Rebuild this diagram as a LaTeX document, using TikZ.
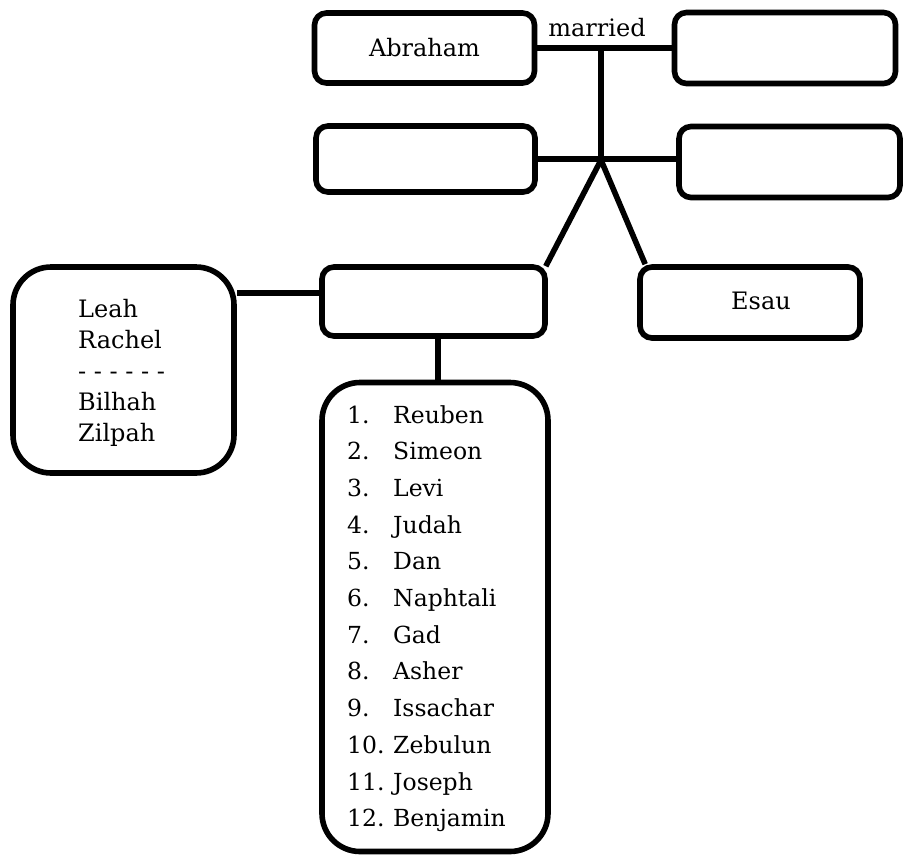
\documentclass[tikz,border=0pt]{standalone}
\usepackage{fontspec}
\setmainfont{DejaVu Serif}
\begin{document}
\begin{tikzpicture}[x=1pt,y=-1pt,
  famlink/.style={line width=5.6pt},
  famcard/.style={draw, line width=5.6pt, rounded corners=12pt, inner sep=0pt,
    font=\fontsize{24}{28}\selectfont},
  bigcard/.style={famcard, rounded corners=38pt},
  listtext/.style={anchor=base west, inner sep=0pt, font=\fontsize{23.5}{28}\selectfont},
  wifetext/.style={anchor=base west, inner sep=0pt, font=\fontsize{24}{28}\selectfont}]
\useasboundingbox (0,0) rectangle (911,857);

% first generation
\node[famcard, minimum width=220pt, minimum height=70pt] (abraham) at (424.5,48) {Abraham};
\node[famcard, minimum width=221pt, minimum height=71pt] (wife) at (785,48) {};
\node[font=\fontsize{24}{28}\selectfont, anchor=base, inner sep=0pt] (married) at (597,36) {married};

% second generation
\node[famcard, minimum width=219pt, minimum height=66pt] (sonA) at (425.5,159) {};
\node[famcard, minimum width=221pt, minimum height=71pt] (sonB) at (789.5,162) {};

% third generation
\node[famcard, minimum width=223pt, minimum height=69pt] (jacob) at (433.5,301.5) {};
\node[famcard, minimum width=220pt, minimum height=71pt] (esau) at (750,302.5) {};
\node[font=\fontsize{24}{28}\selectfont, anchor=base, inner sep=0pt] (esaulbl) at (761,309) {Esau};

% wives and sons
\node[bigcard, minimum width=221pt, minimum height=206pt] (wives) at (123.5,370) {};
\node[bigcard, minimum width=226pt, minimum height=469pt] (sons) at (435,617) {};

% connectors
\coordinate (junc) at (601,160);
\draw[famlink] (abraham.east) -- (wife.west);
\draw[famlink] (junc |- abraham.east) -- (junc);
\draw[famlink] (sonA.east) -- (sonA.east -| sonB.west);
\draw[famlink] (junc) -- ([xshift=-2pt,yshift=-2pt]jacob.north east);
\draw[famlink] (junc) -- ([xshift=8pt]esau.north west);
\draw[famlink] ([yshift=8.5pt]jacob.west) -- ([yshift=8.5pt]jacob.west -| wives.east);
\draw[famlink] ([xshift=4.5pt]jacob.south) -- ([xshift=4.5pt]jacob.south |- sons.north);

% wives list
\node[wifetext] (w1) at (78,317) {Leah};
\node[wifetext] (w2) at (78,348) {Rachel};
\node[wifetext] (w3) at (78,379) {- - - - - -};
\node[wifetext] (w4) at (78,410) {Bilhah};
\node[wifetext] (w5) at (78,441) {Zilpah};

% sons list
\foreach \n/\name [count=\i from 0] in {1/Reuben,2/Simeon,3/Levi,4/Judah,5/Dan,6/Naphtali,7/Gad,8/Asher,9/Issachar,10/Zebulun,11/Joseph,12/Benjamin}{
  \node[listtext] (num\n) at (347,423+36.7*\i) {\n.};
  \node[listtext] (son\n) at (393,423+36.7*\i) {\name};
}
\end{tikzpicture}
\end{document}
